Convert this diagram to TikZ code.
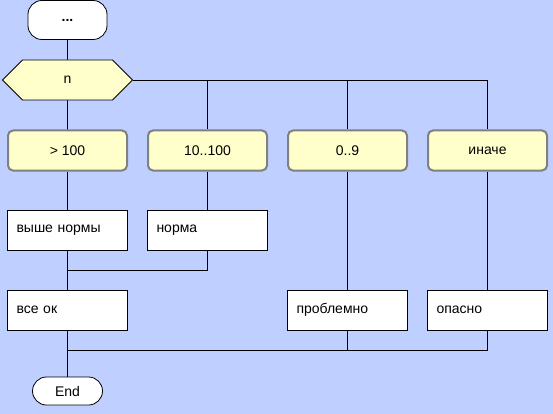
\documentclass[tikz,border=0pt]{standalone}
\usepackage{fontspec}
\setmainfont{Liberation Sans}
\usetikzlibrary{shapes.symbols}
\definecolor{bg}{RGB}{191,207,255}
\definecolor{pale}{RGB}{255,255,204}
\begin{document}
\begin{tikzpicture}[node distance={140pt}, font=\fontsize{14}{16}\selectfont, line width=0.8pt,
	term/.style = {draw, fill=white, rounded corners=14pt, minimum height=28pt},
	hex/.style = {draw, fill=pale, signal, signal to=west and east, signal pointer angle=90, minimum width=130pt, minimum height=40pt},
	case/.style = {draw=gray, line width=2pt, fill=pale, rounded corners=5pt, minimum width=119pt, minimum height=40pt},
	act/.style = {draw, fill=white, text width=102pt, inner xsep=9pt, minimum height=40pt, align=left}]
			\fill[bg] (0,0) rectangle (553pt,-414pt);
			\useasboundingbox (0,0) rectangle (553pt,-414pt);
			\node[term, minimum width=79pt, minimum height=39pt] (1) at (67.5pt,-20pt) {\textbf{...}};
			\node[hex] (2) [below of=1, node distance=60pt] {n};
			\node[case] (3) [below of=2, node distance=70.5pt] {> 100};
			\node[case] (4) [right of=3] {10..100};
			\node[case] (5) [right of=4] {0..9};
			\node[case] (6) [right of=5] {иначе};
			\node[act] (7) [below of=3, node distance=79.5pt] {выше нормы};
			\node[act] (8) [right of=7] {норма};
			\node[act] (9) [below of=7, node distance=80pt] {все ок};
			\node[act] (10) [right of=9, node distance=280pt] {проблемно};
			\node[act] (11) [right of=10] {опасно};
			\node[term, minimum width=70pt] (12) [below of=9, node distance=81pt] {End};
			\coordinate[below of=7, node distance=40pt] (m1);
			\coordinate[below of=9, node distance=40pt] (m2);
			\draw (1) -- (2);
			\draw (2) -- (3);
			\draw (2.east) -| (6);
			\draw (4 |- 2) -- (4);
			\draw (5 |- 2) -- (5);
			\draw (3) -- (7);
			\draw (4) -- (8);
			\draw (5) -- (10);
			\draw (6) -- (11);
			\draw (7) -- (9);
			\draw (8) |- (m1);
			\draw (9) -- (12);
			\draw (10) |- (m2);
			\draw (11) |- (m2);
		\end{tikzpicture}
\end{document}
